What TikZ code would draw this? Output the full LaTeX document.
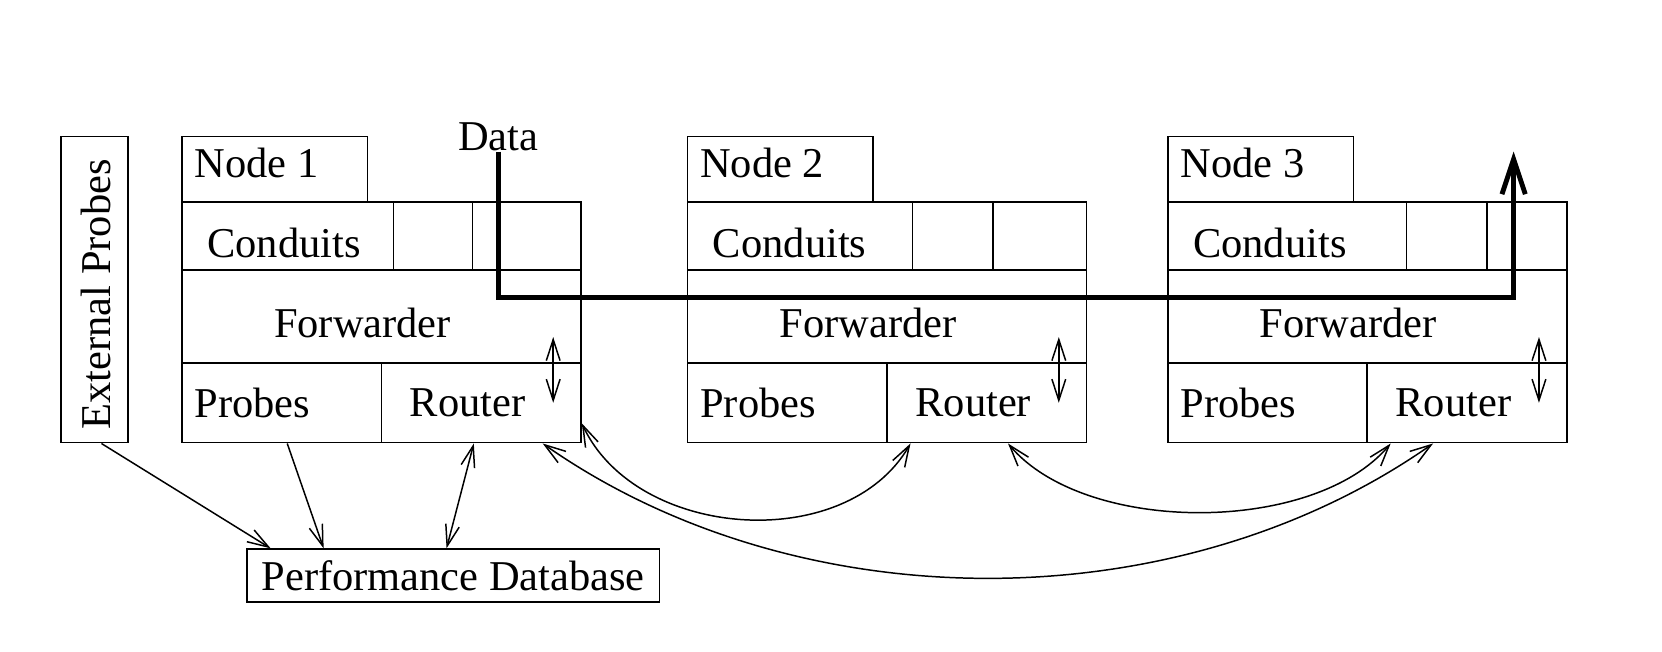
\documentclass[tikz,border=0pt]{standalone}
\usepackage{fontspec}
\setmainfont{Liberation Serif}
\usetikzlibrary{arrows.meta,positioning,calc}
\tikzstyle{cell}=[draw, inner sep=0pt, anchor=north west]
\tikzstyle{lbl}=[inner sep=0pt, font=\fontsize{11.4}{13}\selectfont]
\tikzstyle{dataflow}=[line width=1.3pt, -{Straight Barb[length=3.3mm,width=2.2mm]}]

\begin{document}
\begin{tikzpicture}[>={Straight Barb[length=2mm,width=1.3mm]}]
    \useasboundingbox (0,0) rectangle (15.68,6.15);
    % probes outside the nodes and the database
    \node [cell, minimum width=0.63cm, minimum height=2.89cm] (ext) at (0.57,4.87) {};
    \node [lbl, rotate=90] (extl) at ([xshift=0.01cm,yshift=-0.045cm]ext.center) {External Probes};
    \node [draw, lbl, minimum width=3.89cm, minimum height=0.5cm] (pdb) at (4.275,0.72) {Performance Database};
    % one block per node
    \foreach \n/\x/\da/\db in {1/1.71/2.00/2.75, 2/6.48/2.13/2.89, 3/11.01/2.26/3.02} {
        \node [cell, minimum width=1.75cm, minimum height=0.62cm] (tab\n) at (\x,4.87) {};
        \node [cell, minimum width=3.765cm, minimum height=0.64cm] (cond\n) at (\x,4.25) {};
        \node [cell, minimum width=3.765cm, minimum height=0.88cm] (fwd\n) at (\x,3.61) {};
        \node [cell, minimum width=1.88cm, minimum height=0.75cm] (pr\n) at (\x,2.73) {};
        \node [cell, minimum width=1.885cm, minimum height=0.75cm] (rt\n) at (\x+1.88,2.73) {};
        \node [lbl, anchor=west] (tabl\n) at ([xshift=0.12cm,yshift=0.06cm]tab\n.west) {Node \n};
        \node [lbl] (condl\n) at ([xshift=0.97cm,yshift=-0.07cm]cond\n.west) {Conduits};
        \node [lbl] (fwdl\n) at ([xshift=1.71cm,yshift=-0.06cm]fwd\n.west) {Forwarder};
        \node [lbl, anchor=west] (prl\n) at ([xshift=0.12cm]pr\n.west) {Probes};
        \node [lbl, anchor=west] (rtl\n) at ([xshift=0.27cm]rt\n.west) {Router};
        \draw ([xshift=\da cm]cond\n.north west) -- ([xshift=\da cm]cond\n.south west);
        \draw ([xshift=\db cm]cond\n.north west) -- ([xshift=\db cm]cond\n.south west);
        \draw [<->] ([xshift=-0.27cm,yshift=-0.38cm]rt\n.north east) -- ([xshift=-0.27cm,yshift=0.24cm]rt\n.north east);
    }
    % data path through the nodes
    \node [lbl] (data) at (4.70,4.86) {Data};
    \coordinate (dend) at (14.28,4.72);
    \draw [dataflow] (data.south) -- ++(0,-1.38) -| (dend);
    % links
    \draw [->] ([xshift=0.065cm]ext.south) -- ([xshift=0.23cm]pdb.north west);
    \draw [->] ([xshift=1.00cm]pr1.south west) -- ([xshift=0.73cm]pdb.north west);
    \draw [<->] ([xshift=0.88cm]rt1.south west) -- ([xshift=1.89cm]pdb.north west);
    \draw [<->] ([yshift=0.19cm]rt1.south east) to[out=-65,in=-120] ([xshift=0.23cm]rt2.south west);
    \draw [<->] ([xshift=1.15cm]rt2.south west) to[out=-50,in=-130,looseness=0.8] ([xshift=0.23cm]rt3.south west);
    \draw [<->] ([xshift=1.53cm]rt1.south west) to[out=-35,in=-145,looseness=0.9] ([xshift=0.63cm]rt3.south west);
\end{tikzpicture}
\end{document}
